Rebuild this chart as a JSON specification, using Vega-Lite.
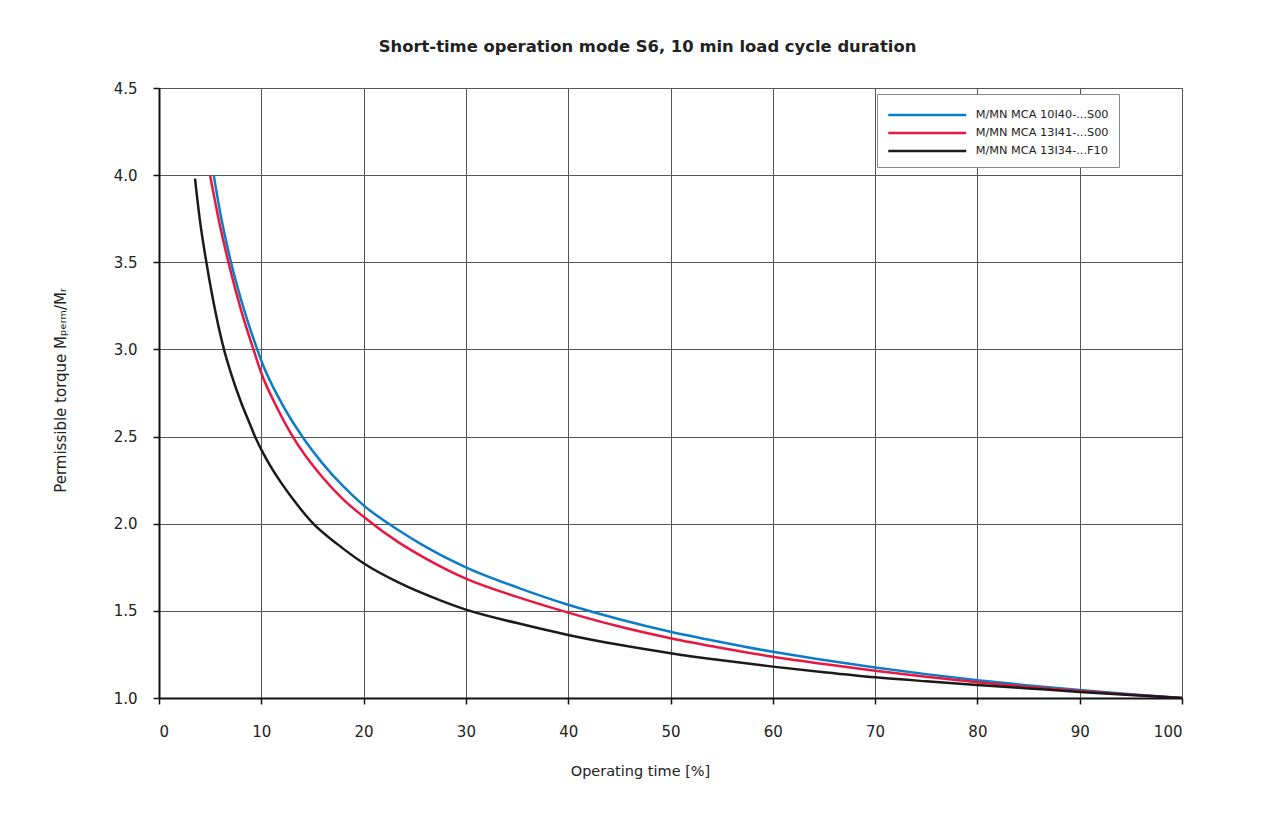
{
  "$schema": "https://vega.github.io/schema/vega-lite/v6.json",
  "width": 1023,
  "height": 610,
  "autosize": {"type": "none"},
  "padding": {"left": 159, "top": 88, "right": 105, "bottom": 118},
  "background": "white",
  "title": {
    "text": "Short-time operation mode S6, 10 min load cycle duration",
    "font": "DejaVu Sans",
    "fontSize": 16.4,
    "fontWeight": "bold",
    "color": "#222222",
    "anchor": "middle",
    "frame": "group",
    "dx": -23,
    "offset": 26
  },
  "config": {
    "view": {"stroke": null},
    "axis": {
      "labelFont": "DejaVu Sans",
      "titleFont": "DejaVu Sans",
      "labelFontSize": 15,
      "titleFontSize": 14.5,
      "labelColor": "#222222",
      "titleColor": "#222222",
      "titleFontWeight": "normal",
      "gridColor": "#555555",
      "gridOpacity": 1,
      "gridWidth": 1,
      "domainColor": "#111111",
      "domainWidth": 2,
      "tickColor": "#111111",
      "tickWidth": 1.5,
      "tickSize": 6
    }
  },
  "data": {
    "values": [
      {"series": "M/MN MCA 10I40-...S00", "t": 5.35, "m": 4.0},
      {"series": "M/MN MCA 10I40-...S00", "t": 6, "m": 3.78},
      {"series": "M/MN MCA 10I40-...S00", "t": 7.04, "m": 3.5},
      {"series": "M/MN MCA 10I40-...S00", "t": 8, "m": 3.29},
      {"series": "M/MN MCA 10I40-...S00", "t": 9.6, "m": 3.0},
      {"series": "M/MN MCA 10I40-...S00", "t": 10, "m": 2.935},
      {"series": "M/MN MCA 10I40-...S00", "t": 12, "m": 2.69},
      {"series": "M/MN MCA 10I40-...S00", "t": 14, "m": 2.5},
      {"series": "M/MN MCA 10I40-...S00", "t": 16, "m": 2.345},
      {"series": "M/MN MCA 10I40-...S00", "t": 18, "m": 2.215},
      {"series": "M/MN MCA 10I40-...S00", "t": 20, "m": 2.105},
      {"series": "M/MN MCA 10I40-...S00", "t": 23.5, "m": 1.96},
      {"series": "M/MN MCA 10I40-...S00", "t": 26, "m": 1.87},
      {"series": "M/MN MCA 10I40-...S00", "t": 30, "m": 1.75},
      {"series": "M/MN MCA 10I40-...S00", "t": 35, "m": 1.635},
      {"series": "M/MN MCA 10I40-...S00", "t": 40, "m": 1.535},
      {"series": "M/MN MCA 10I40-...S00", "t": 45, "m": 1.452},
      {"series": "M/MN MCA 10I40-...S00", "t": 50, "m": 1.38},
      {"series": "M/MN MCA 10I40-...S00", "t": 55, "m": 1.32},
      {"series": "M/MN MCA 10I40-...S00", "t": 60, "m": 1.265},
      {"series": "M/MN MCA 10I40-...S00", "t": 65, "m": 1.218},
      {"series": "M/MN MCA 10I40-...S00", "t": 70, "m": 1.175},
      {"series": "M/MN MCA 10I40-...S00", "t": 75, "m": 1.137},
      {"series": "M/MN MCA 10I40-...S00", "t": 80, "m": 1.102},
      {"series": "M/MN MCA 10I40-...S00", "t": 85, "m": 1.072},
      {"series": "M/MN MCA 10I40-...S00", "t": 90, "m": 1.046},
      {"series": "M/MN MCA 10I40-...S00", "t": 95, "m": 1.022},
      {"series": "M/MN MCA 10I40-...S00", "t": 100, "m": 1.0},
      {"series": "M/MN MCA 13I41-...S00", "t": 4.99, "m": 4.0},
      {"series": "M/MN MCA 13I41-...S00", "t": 6, "m": 3.7},
      {"series": "M/MN MCA 13I41-...S00", "t": 6.87, "m": 3.48},
      {"series": "M/MN MCA 13I41-...S00", "t": 8, "m": 3.23},
      {"series": "M/MN MCA 13I41-...S00", "t": 9.29, "m": 2.99},
      {"series": "M/MN MCA 13I41-...S00", "t": 10, "m": 2.865},
      {"series": "M/MN MCA 13I41-...S00", "t": 11.5, "m": 2.67},
      {"series": "M/MN MCA 13I41-...S00", "t": 12.97, "m": 2.51},
      {"series": "M/MN MCA 13I41-...S00", "t": 16, "m": 2.265},
      {"series": "M/MN MCA 13I41-...S00", "t": 18, "m": 2.14},
      {"series": "M/MN MCA 13I41-...S00", "t": 20, "m": 2.04},
      {"series": "M/MN MCA 13I41-...S00", "t": 23.5, "m": 1.89},
      {"series": "M/MN MCA 13I41-...S00", "t": 26, "m": 1.803},
      {"series": "M/MN MCA 13I41-...S00", "t": 30, "m": 1.685},
      {"series": "M/MN MCA 13I41-...S00", "t": 35, "m": 1.58},
      {"series": "M/MN MCA 13I41-...S00", "t": 40, "m": 1.49},
      {"series": "M/MN MCA 13I41-...S00", "t": 45, "m": 1.41},
      {"series": "M/MN MCA 13I41-...S00", "t": 50, "m": 1.343},
      {"series": "M/MN MCA 13I41-...S00", "t": 55, "m": 1.287},
      {"series": "M/MN MCA 13I41-...S00", "t": 60, "m": 1.237},
      {"series": "M/MN MCA 13I41-...S00", "t": 65, "m": 1.195},
      {"series": "M/MN MCA 13I41-...S00", "t": 70, "m": 1.157},
      {"series": "M/MN MCA 13I41-...S00", "t": 75, "m": 1.122},
      {"series": "M/MN MCA 13I41-...S00", "t": 80, "m": 1.09},
      {"series": "M/MN MCA 13I41-...S00", "t": 85, "m": 1.063},
      {"series": "M/MN MCA 13I41-...S00", "t": 90, "m": 1.04},
      {"series": "M/MN MCA 13I41-...S00", "t": 95, "m": 1.019},
      {"series": "M/MN MCA 13I41-...S00", "t": 100, "m": 1.0},
      {"series": "M/MN MCA 13I34-...F10", "t": 3.52, "m": 3.98},
      {"series": "M/MN MCA 13I34-...F10", "t": 4, "m": 3.74},
      {"series": "M/MN MCA 13I34-...F10", "t": 4.66, "m": 3.49},
      {"series": "M/MN MCA 13I34-...F10", "t": 5.5, "m": 3.22},
      {"series": "M/MN MCA 13I34-...F10", "t": 6.35, "m": 3.0},
      {"series": "M/MN MCA 13I34-...F10", "t": 7, "m": 2.87},
      {"series": "M/MN MCA 13I34-...F10", "t": 8, "m": 2.7},
      {"series": "M/MN MCA 13I34-...F10", "t": 8.9, "m": 2.57},
      {"series": "M/MN MCA 13I34-...F10", "t": 9.35, "m": 2.505},
      {"series": "M/MN MCA 13I34-...F10", "t": 10, "m": 2.425},
      {"series": "M/MN MCA 13I34-...F10", "t": 11, "m": 2.32},
      {"series": "M/MN MCA 13I34-...F10", "t": 12, "m": 2.23},
      {"series": "M/MN MCA 13I34-...F10", "t": 13.5, "m": 2.11},
      {"series": "M/MN MCA 13I34-...F10", "t": 15.08, "m": 2.0},
      {"series": "M/MN MCA 13I34-...F10", "t": 17.5, "m": 1.88},
      {"series": "M/MN MCA 13I34-...F10", "t": 20, "m": 1.773},
      {"series": "M/MN MCA 13I34-...F10", "t": 23.5, "m": 1.66},
      {"series": "M/MN MCA 13I34-...F10", "t": 27.5, "m": 1.56},
      {"series": "M/MN MCA 13I34-...F10", "t": 30, "m": 1.507},
      {"series": "M/MN MCA 13I34-...F10", "t": 35, "m": 1.43},
      {"series": "M/MN MCA 13I34-...F10", "t": 40, "m": 1.362},
      {"series": "M/MN MCA 13I34-...F10", "t": 45, "m": 1.305},
      {"series": "M/MN MCA 13I34-...F10", "t": 50, "m": 1.257},
      {"series": "M/MN MCA 13I34-...F10", "t": 55, "m": 1.216},
      {"series": "M/MN MCA 13I34-...F10", "t": 60, "m": 1.18},
      {"series": "M/MN MCA 13I34-...F10", "t": 65, "m": 1.148},
      {"series": "M/MN MCA 13I34-...F10", "t": 70, "m": 1.119},
      {"series": "M/MN MCA 13I34-...F10", "t": 75, "m": 1.096},
      {"series": "M/MN MCA 13I34-...F10", "t": 80, "m": 1.075},
      {"series": "M/MN MCA 13I34-...F10", "t": 85, "m": 1.055},
      {"series": "M/MN MCA 13I34-...F10", "t": 90, "m": 1.035},
      {"series": "M/MN MCA 13I34-...F10", "t": 95, "m": 1.017},
      {"series": "M/MN MCA 13I34-...F10", "t": 100, "m": 1.0}
    ]
  },
  "mark": {"type": "line", "strokeWidth": 2.5, "interpolate": "monotone", "clip": true},
  "encoding": {
    "x": {
      "field": "t",
      "type": "quantitative",
      "scale": {"domain": [0, 100], "nice": false},
      "axis": {
        "values": [0, 10, 20, 30, 40, 50, 60, 70, 80, 90, 100],
        "title": "Operating time [%]",
        "labelPadding": 20,
        "titleX": 481,
        "titleY": 73,
        "titleAlign": "center",
        "titleBaseline": "middle"
      }
    },
    "y": {
      "field": "m",
      "type": "quantitative",
      "scale": {"domain": [1, 4.5], "nice": false, "zero": false},
      "axis": {
        "values": [1, 1.5, 2, 2.5, 3, 3.5, 4, 4.5],
        "format": ".1f",
        "title": "Permissible torque Mₚₑᵣₘ/Mᵣ",
        "labelPadding": 16,
        "titleX": -99,
        "titleY": 302,
        "titleAngle": 270,
        "titleAlign": "center",
        "titleBaseline": "middle",
        "titleFontSize": 15
      }
    },
    "color": {
      "field": "series",
      "type": "nominal",
      "scale": {
        "domain": ["M/MN MCA 10I40-...S00", "M/MN MCA 13I41-...S00", "M/MN MCA 13I34-...F10"],
        "range": ["#0a7dc8", "#e8173f", "#1a1a1a"]
      },
      "legend": {
        "title": null,
        "orient": "none",
        "legendX": 718,
        "legendY": 6,
        "fillColor": "white",
        "strokeColor": "#888888",
        "padding": 10,
        "symbolType": "M-4,0H4",
        "symbolSize": 380,
        "symbolStrokeWidth": 2.5,
        "symbolOffset": 29.25,
        "labelFont": "DejaVu Sans",
        "labelFontSize": 11.3,
        "labelColor": "#222222",
        "labelOffset": 37.5,
        "rowPadding": 1
      }
    }
  }
}
